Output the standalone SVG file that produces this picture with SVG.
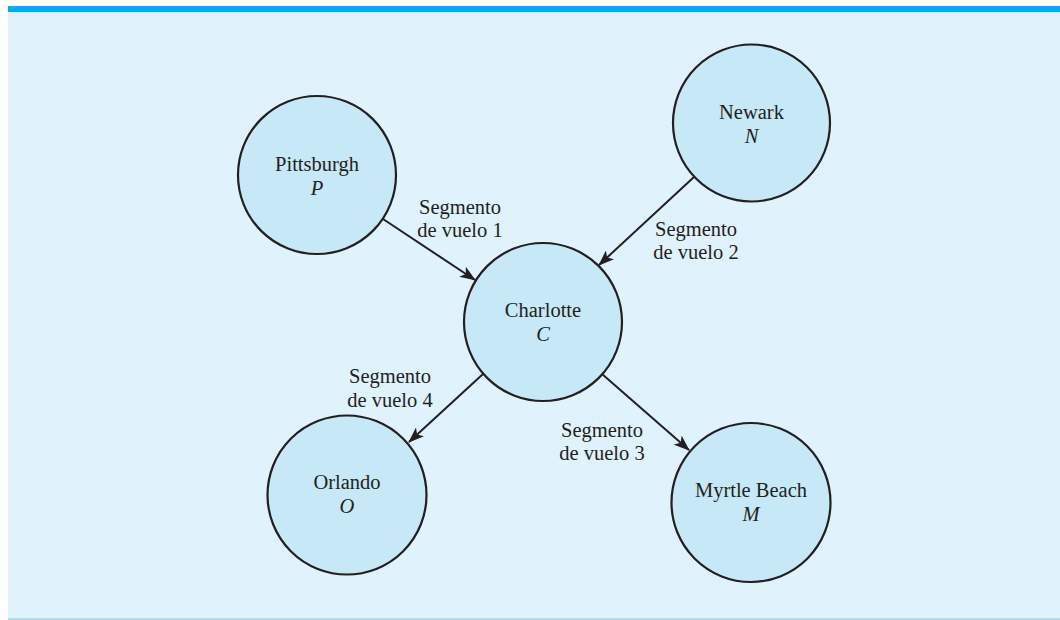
<svg xmlns="http://www.w3.org/2000/svg" width="1060" height="620" viewBox="0 0 1060 620">
<style>
.bg{fill:#e0f2fc}
.node circle{fill:#c6e8f7;stroke:#231f20;stroke-width:2.2}
text{font-family:"Liberation Serif","Times New Roman",serif;font-size:20.5px;fill:#231f20;text-anchor:middle}
.it{font-style:italic}
.edge{stroke:#231f20;stroke-width:2;fill:none;marker-end:url(#arr)}
</style>
<defs>
<marker id="arr" viewBox="0 0 16 12" refX="15" refY="6" markerWidth="16" markerHeight="12" markerUnits="userSpaceOnUse" orient="auto">
<path d="M0,0 L16,6 L0,12 L4,6 Z" fill="#231f20"/>
</marker>
</defs>
<rect class="bg" x="8" y="12" width="1052" height="608"/>
<rect x="8" y="6" width="1052" height="6" fill="#00aeef"/>
<rect x="8" y="618" width="1052" height="2" fill="#b3dded"/>
<g id="connectors">
<line class="edge" x1="383" y1="219" x2="475" y2="280"/>
<line class="edge" x1="694" y1="177" x2="599" y2="265"/>
<line class="edge" x1="483" y1="374" x2="409" y2="442"/>
<line class="edge" x1="602" y1="374" x2="689" y2="450"/>
</g>
<g id="labels">
<text x="460" y="214">Segmento</text><text x="460" y="237">de vuelo 1</text>
<text x="696" y="236">Segmento</text><text x="696" y="259">de vuelo 2</text>
<text x="602" y="437">Segmento</text><text x="602" y="460">de vuelo 3</text>
<text x="390" y="383">Segmento</text><text x="390" y="407">de vuelo 4</text>
</g>
<g id="pittsburgh" class="node"><circle cx="317" cy="175" r="79"/><text x="317" y="171">Pittsburgh</text><text class="it" x="317" y="195">P</text></g>
<g id="newark" class="node"><circle cx="751.5" cy="123" r="78.5"/><text x="751.5" y="119">Newark</text><text class="it" x="751.5" y="143">N</text></g>
<g id="charlotte" class="node"><circle cx="543" cy="322" r="79"/><text x="543" y="317">Charlotte</text><text class="it" x="543" y="341">C</text></g>
<g id="orlando" class="node"><circle cx="347" cy="495" r="79.5"/><text x="347" y="489">Orlando</text><text class="it" x="347" y="513">O</text></g>
<g id="myrtle" class="node"><circle cx="751" cy="502.5" r="79.5"/><text x="751" y="497">Myrtle Beach</text><text class="it" x="751" y="521">M</text></g>
</svg>
